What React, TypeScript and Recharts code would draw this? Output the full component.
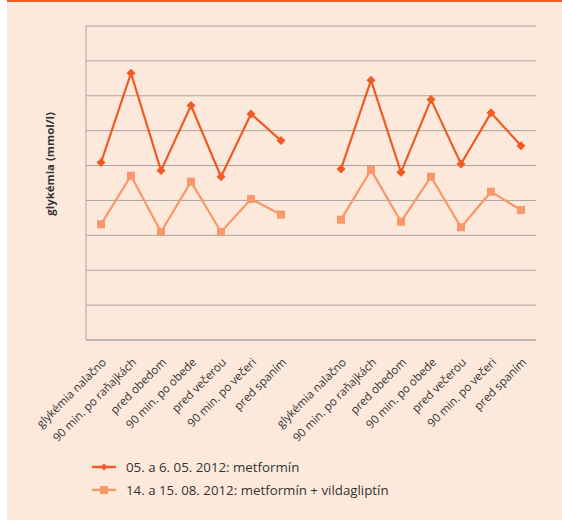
import React from "react"
import {
  LineChart, Line, XAxis, YAxis, CartesianGrid, Legend,
} from "recharts"

// 7 time points per day, one empty slot between the two periods
const categories = [
  "glykémia nalačno", "90 min. po raňajkách", "pred obedom", "90 min. po obede",
  "pred večerou", "90 min. po večeri", "pred spaním",
  "",
  "glykémia nalačno", "90 min. po raňajkách", "pred obedom", "90 min. po obede",
  "pred večerou", "90 min. po večeri", "pred spaním",
]

const metformin = [
  10.17, 15.29, 9.71, 13.44, 9.36, 12.96, 11.43,
  null,
  9.8, 14.89, 9.61, 13.78, 10.09, 13.02, 11.14,
]

const metforminVilda = [
  6.63, 9.42, 6.19, 9.08, 6.19, 8.08, 7.19,
  null,
  6.9, 9.75, 6.78, 9.36, 6.46, 8.5, 7.45,
]

const yTicks = [0, 2, 4, 6, 8, 10, 12, 14, 16, 18]

const seriesNames = ["05. a 6. 05. 2012: metformín", "14. a 15. 08. 2012: metformín + vildagliptín"]

const DARK = "#f15a22"
const LIGHT = "#f7976a"
const GRID = "#a8a4a2"
const INK = "#333333"
const BG = "#fde9dc"
const FONT = "'Open Sans', sans-serif"

const data = categories.map((c, i) => ({
  label: c,
  a: metformin[i],
  b: metforminVilda[i],
}))

function Diamond({ cx, cy, index }: any) {
  if (cx == null || cy == null || Number.isNaN(cy)) return <g key={`d-${index}`} />
  const r = 4.5
  return (
    <polygon
      key={`d-${index}`}
      points={`${cx},${cy - r} ${cx + r},${cy} ${cx},${cy + r} ${cx - r},${cy}`}
      fill={DARK}
    />
  )
}

function Square({ cx, cy, index }: any) {
  if (cx == null || cy == null || Number.isNaN(cy)) return <g key={`s-${index}`} />
  const s = 8
  return <rect key={`s-${index}`} x={cx - s / 2} y={cy - s / 2} width={s} height={s} fill={LIGHT} />
}

function CategoryTick({ x, y, payload }: any) {
  if (!payload?.value) return null
  return (
    <g transform={`translate(${x + 6},${y + 15})`}>
      <text
        textAnchor="end"
        transform="rotate(-45)"
        fontFamily={FONT}
        fontSize={11.5}
        fill={INK}
      >
        {payload.value}
      </text>
    </g>
  )
}

function YLabel({ viewBox }: any) {
  const vb = viewBox ?? { x: 79, y: 26, width: 1, height: 314 }
  const x = vb.x - 36
  const y = vb.y + vb.height / 2 - 19
  return (
    <text
      x={x}
      y={y}
      transform={`rotate(-90, ${x}, ${y})`}
      textAnchor="middle"
      dominantBaseline="central"
      fontFamily={FONT}
      fontSize={11.4}
      fontWeight={700}
      fill={INK}
    >
      glykémia (mmol/l)
    </text>
  )
}

function LegendBox() {
  const items = [
    { name: seriesNames[0], color: DARK, marker: "diamond" },
    { name: seriesNames[1], color: LIGHT, marker: "square" },
  ]
  return (
    <div style={{ fontFamily: FONT, fontSize: 13.3, color: INK }}>
      {items.map((it) => (
        <div key={it.name} style={{ display: "flex", alignItems: "center", height: 23 }}>
          <svg width={24} height={10} style={{ marginRight: 10 }}>
            <line x1={0} y1={5} x2={24} y2={5} stroke={it.color} strokeWidth={2.5} />
            {it.marker === "diamond"
              ? <polygon points="12,1.5 15.5,5 12,8.5 8.5,5" fill={it.color} />
              : <rect x={8} y={1} width={8} height={8} fill={it.color} />}
          </svg>
          <span>{it.name}</span>
        </div>
      ))}
    </div>
  )
}

export default function App() {
  return (
    <div style={{ position: "absolute", left: 7, top: 0, width: 555, height: 520, background: BG }}>
      <div style={{ position: "absolute", left: 0, top: 0, width: 555, height: 2, background: DARK }} />
      <LineChart
        width={555}
        height={520}
        data={data}
        margin={{ top: 26, right: 26, bottom: 0, left: 78 }}
      >
        <CartesianGrid horizontal vertical={false} stroke={GRID} strokeWidth={1} />
        <XAxis
          dataKey="label"
          interval={0}
          height={180}
          padding={{ left: 15, right: 15 }}
          axisLine={{ stroke: GRID }}
          tickLine={false}
          tick={<CategoryTick />}
        />
        <YAxis
          width={1}
          domain={[0, 18]}
          ticks={yTicks}
          interval={0}
          tick={() => <g />}
          tickLine={false}
          axisLine={{ stroke: GRID }}
          label={<YLabel />}
        />
        <Legend
          layout="horizontal"
          verticalAlign="middle"
          align="center"
          wrapperStyle={{ top: 455, left: 85, width: 440 }}
          content={<LegendBox />}
        />
        <Line
          dataKey="a"
          name={seriesNames[0]}
          stroke={DARK}
          strokeWidth={2.2}
          dot={<Diamond />}
          activeDot={false}
          isAnimationActive={false}
        />
        <Line
          dataKey="b"
          name={seriesNames[1]}
          stroke={LIGHT}
          strokeWidth={2.2}
          dot={<Square />}
          activeDot={false}
          isAnimationActive={false}
        />
      </LineChart>
    </div>
  )
}
